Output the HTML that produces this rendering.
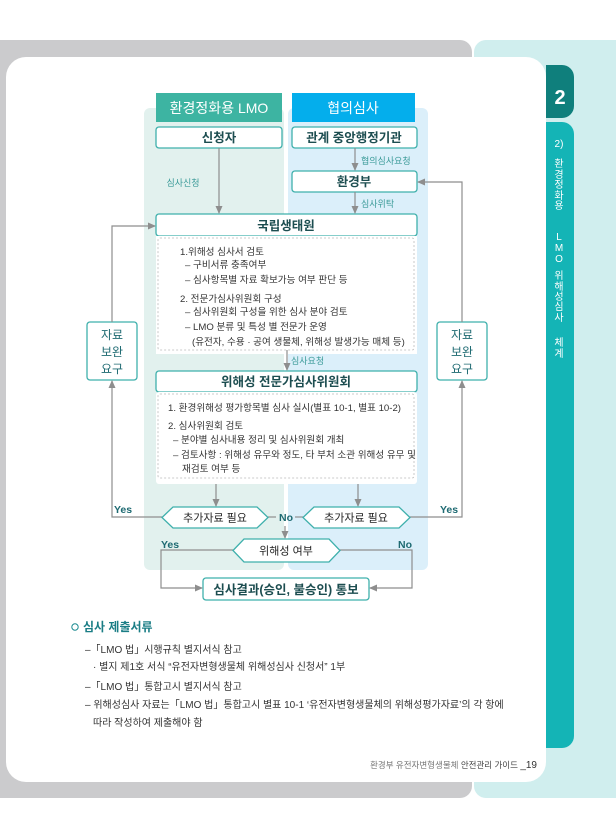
<!DOCTYPE html>
<html><head><meta charset="utf-8"><style>
html,body{margin:0;padding:0;background:#fff;}
svg{display:block;}
text{font-family:"Liberation Sans","Noto Sans CJK KR",sans-serif;}
</style></head><body>
<svg width="616" height="840" viewBox="0 0 616 840" xmlns="http://www.w3.org/2000/svg">
<defs>
<marker id="ar" markerWidth="8" markerHeight="8" refX="7" refY="4" orient="auto" markerUnits="userSpaceOnUse">
<path d="M0,0.5 L8,4 L0,7.5 z" fill="#8e8e8e"/></marker>
</defs>
<rect x="0" y="0" width="616" height="840" fill="#fff"/>
<path d="M0,40 H460 a12,12 0 0 1 12,12 V786 a12,12 0 0 1 -12,12 H0 z" fill="#cbcbcd"/>
<path d="M486,40 H616 V798 H486 a12,12 0 0 1 -12,-12 V52 a12,12 0 0 1 12,-12 z" fill="#d0eeee"/>
<rect x="6" y="57" width="540" height="725" rx="20" fill="#fff"/>
<path d="M546,65 H562 a12,12 0 0 1 12,12 V106 a12,12 0 0 1 -12,12 H546 z" fill="#0f7f7c"/>
<text x="560" y="104" font-size="20" font-weight="bold" fill="#fff" text-anchor="middle">2</text>
<path d="M546,122 H562 a12,12 0 0 1 12,12 V736 a12,12 0 0 1 -12,12 H546 z" fill="#14b4b6"/>
<g font-size="10" fill="#fff" text-anchor="middle">
<text x="559" y="147">2)</text>
<text x="559" y="167">환</text><text x="559" y="178">경</text><text x="559" y="188">정</text><text x="559" y="199">화</text><text x="559" y="209">용</text>
<text x="559" y="240">L</text><text x="559" y="251">M</text><text x="559" y="262">O</text>
<text x="559" y="279">위</text><text x="559" y="290">해</text><text x="559" y="300">성</text><text x="559" y="310">심</text><text x="559" y="321">사</text>
<text x="559" y="346">체</text><text x="559" y="357">계</text>
</g>
<rect x="144" y="108" width="140" height="462" rx="6" fill="#e2f1ee"/>
<rect x="288" y="108" width="140" height="462" rx="6" fill="#dbeffa"/>
<rect x="156" y="93" width="126" height="29" fill="#3db4a2"/>
<text x="219" y="113" font-size="14" fill="#fff" text-anchor="middle">환경정화용 LMO</text>
<rect x="292" y="93" width="123" height="29" fill="#04aeec"/>
<text x="353" y="113" font-size="14" fill="#fff" text-anchor="middle">협의심사</text>
<g fill="#fff" stroke="#3fb0ac" stroke-width="1.3">
<rect x="156" y="127" width="126" height="21" rx="3"/>
<rect x="292" y="127" width="125" height="21" rx="3"/>
<rect x="292" y="171" width="125" height="21" rx="3"/>
<rect x="156" y="214" width="261" height="22" rx="3"/>
<rect x="156" y="371" width="261" height="21" rx="3"/>
<rect x="203" y="578" width="166" height="22" rx="3"/>
<rect x="87" y="322" width="50" height="58" rx="3"/>
<rect x="437" y="322" width="50" height="58" rx="3"/>
</g>
<g font-size="12.5" font-weight="bold" fill="#1c4d50" text-anchor="middle">
<text x="219" y="142">신청자</text>
<text x="354" y="142">관계 중앙행정기관</text>
<text x="354" y="186">환경부</text>
<text x="286" y="230">국립생태원</text>
<text x="286" y="386">위해성 전문가심사위원회</text>
<text x="286" y="594">심사결과(승인, 불승인) 통보</text>
</g>
<g font-size="12" fill="#1e6a72" text-anchor="middle">
<text x="112" y="339">자료</text><text x="112" y="356">보완</text><text x="112" y="373">요구</text>
<text x="462" y="339">자료</text><text x="462" y="356">보완</text><text x="462" y="373">요구</text>
</g>
<rect x="156" y="236" width="261" height="118" fill="#fff"/>
<rect x="158" y="238" width="256" height="112" fill="#fff" stroke="#bbb" stroke-width="0.8" stroke-dasharray="2,2" rx="2"/>
<rect x="156" y="392" width="261" height="92" rx="3" fill="#fff"/>
<rect x="158" y="394" width="256" height="84" fill="#fff" stroke="#bbb" stroke-width="0.8" stroke-dasharray="2,2" rx="2"/>
<g font-size="9.6" fill="#333">
<text x="180" y="255">1.위해성 심사서 검토</text>
<text x="185" y="268">– 구비서류 충족여부</text>
<text x="185" y="283">– 심사항목별 자료 확보가능 여부 판단 등</text>
<text x="180" y="302">2. 전문가심사위원회 구성</text>
<text x="185" y="315">– 심사위원회 구성을 위한 심사 분야 검토</text>
<text x="185" y="330">– LMO 분류 및 특성 별 전문가 운영</text>
<text x="192" y="345">(유전자, 수용 · 공여 생물체, 위해성 발생가능 매체 등)</text>
<text x="168" y="411">1. 환경위해성 평가항목별 심사 실시(별표 10-1, 별표 10-2)</text>
<text x="168" y="429">2. 심사위원회 검토</text>
<text x="173" y="443">– 분야별 심사내용 정리 및 심사위원회 개최</text>
<text x="173" y="458">– 검토사항 : 위해성 유무와 정도, 타 부처 소관 위해성 유무 및</text>
<text x="182" y="472">재검토 여부 등</text>
</g>
<g font-size="9" fill="#3a9a98">
<text x="183" y="186" text-anchor="middle">심사신청</text>
<text x="361" y="164">협의심사요청</text>
<text x="361" y="207">심사위탁</text>
<text x="291" y="364">심사요청</text>
</g>
<g stroke="#8e8e8e" stroke-width="1.2" fill="none" marker-end="url(#ar)">
<line x1="219" y1="148" x2="219" y2="213"/>
<line x1="355" y1="148" x2="355" y2="170"/>
<line x1="355" y1="192" x2="355" y2="213"/>
<line x1="287" y1="350" x2="287" y2="370"/>
<line x1="216" y1="484" x2="216" y2="506"/>
<line x1="358" y1="484" x2="358" y2="506"/>
<line x1="285" y1="526" x2="285" y2="538"/>
<polyline points="162,517 112,517 112,381"/>
<polyline points="112,322 112,226 155,226"/>
<polyline points="410,517 462,517 462,381"/>
<polyline points="462,322 462,182 418,182"/>
<polyline points="233,550 161,550 161,588 202,588"/>
<polyline points="340,550 412,550 412,588 370,588"/>
</g>
<line x1="268" y1="517" x2="276" y2="517" stroke="#8e8e8e" stroke-width="1.2"/>
<line x1="295" y1="517" x2="303" y2="517" stroke="#8e8e8e" stroke-width="1.2"/>
<g fill="#fff" stroke="#3fb0ac" stroke-width="1.3">
<polygon points="162,517.5 173,507 257,507 268,517.5 257,528 173,528"/>
<polygon points="303,517.5 314,507 399,507 410,517.5 399,528 314,528"/>
<polygon points="233,550.5 244,539 329,539 340,550.5 329,562 244,562"/>
</g>
<g font-size="11" fill="#222" text-anchor="middle">
<text x="215" y="521.5">추가자료 필요</text>
<text x="356" y="521.5">추가자료 필요</text>
<text x="286" y="554.5">위해성 여부</text>
</g>
<g font-size="10.5" font-weight="bold" fill="#1e6a72">
<text x="114" y="513">Yes</text>
<text x="440" y="513">Yes</text>
<text x="279" y="521">No</text>
<text x="161" y="548">Yes</text>
<text x="398" y="548">No</text>
</g>
<circle cx="75" cy="627" r="3.2" fill="none" stroke="#1a8a90" stroke-width="1"/>
<text x="83" y="631" font-size="12" font-weight="bold" fill="#1a7d85">심사 제출서류</text>
<g font-size="10" fill="#333">
<text x="85" y="653">–「LMO 법」시행규칙 별지서식 참고</text>
<text x="93" y="670">·  별지 제1호 서식 “유전자변형생물체 위해성심사 신청서” 1부</text>
<text x="85" y="690">–「LMO 법」통합고시 별지서식 참고</text>
<text x="85" y="708">– 위해성심사 자료는「LMO 법」통합고시 별표 10-1 ‘유전자변형생물체의 위해성평가자료’의 각 항에</text>
<text x="93" y="726">따라 작성하여 제출해야 함</text>
</g>
<text x="537" y="768" font-size="8.5" fill="#777" text-anchor="end">환경부 유전자변형생물체 <tspan fill="#444">안전관리 가이드</tspan> <tspan font-size="10" fill="#333">_19</tspan></text>
</svg>
</body></html>
